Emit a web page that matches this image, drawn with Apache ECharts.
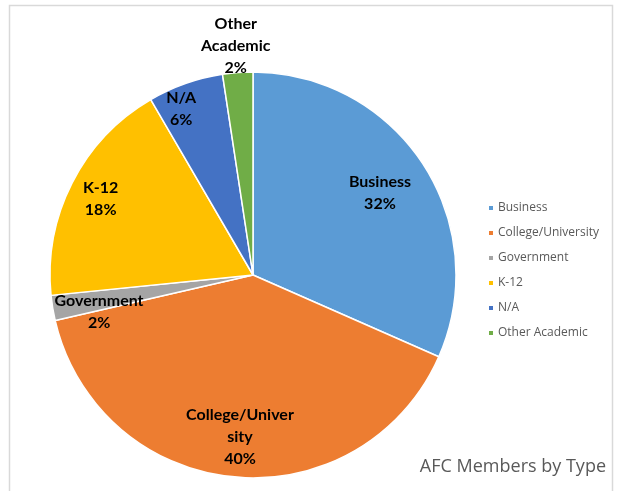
<!DOCTYPE html>
<html><head><meta charset="utf-8">
<script src="https://cdn.jsdelivr.net/npm/echarts@6/dist/echarts.min.js"></script>
<style>html,body{margin:0;padding:0;background:#fff}#c{width:621px;height:491px}</style>
</head><body><div id="c"></div>
<script>
const categories = ['Business','College/University','Government','K-12','N/A','Other Academic'];
const values = [31.6, 39.8, 2.0, 18.2, 6.0, 2.4];
const labelNames = ['Business','College/Univer\nsity','Government','K-12','N/A','Other\nAcademic'];
const titleText = 'AFC Members by Type';

const colors = ['#5B9BD5','#ED7D31','#A5A5A5','#FFC000','#4472C4','#70AD47'];
const labelRadiusFactor = [0.745, 0.80, 0.78, 0.84, 0.89, 1.13];
const labelAngleShift = [0.2, -0.8, -4.2, -0.3, -4.0, 0];

const chart = echarts.init(document.getElementById('c'), null, {renderer:'canvas'});
const total = values.reduce((a,b)=>a+b,0);

chart.setOption({
  animation:false,
  backgroundColor:'#fff',
  color: colors,
  title:{
    text:titleText, right:10, bottom:10,
    textStyle:{fontFamily:'Open Sans', fontSize:18, fontWeight:'normal', color:'#595959'}
  },
  legend:{
    orient:'vertical', left:482, top:196,
    itemWidth:6, itemHeight:6, itemGap:11, icon:'rect',
    textStyle:{fontFamily:'Open Sans', fontSize:12, color:'#595959', lineHeight:14, padding:[0,0,0,-1]},
    data: categories
  },
  graphic:[{
    type:'rect', shape:{x:9.5, y:5.5, width:603, height:500},
    style:{fill:'none', stroke:'#d9d9d9', lineWidth:1.5}, silent:true
  }],
  series:[{
    type:'pie',
    center:[253,275],
    radius:[0,203],
    startAngle:90,
    clockwise:true,
    avoidLabelOverlap:false,
    itemStyle:{borderColor:'#fff', borderWidth:1.5},
    label:{
      show:true, position:'inside',
      fontFamily:'Lato', fontSize:16, fontWeight:'bold', color:'#000', lineHeight:22,
      formatter: p => labelNames[p.dataIndex] + '\n' + Math.round(p.value/total*100) + '%'
    },
    labelLine:{show:false},
    labelLayout: function(params){
      const data = chart.getModel().getSeriesByIndex(0).getData();
      const lay = data.getItemLayout(params.dataIndex);
      const i = params.dataIndex;
      const mid = (lay.startAngle + lay.endAngle)/2 + labelAngleShift[i]*Math.PI/180;
      const r = lay.r * labelRadiusFactor[i];
      return {x: lay.cx + r*Math.cos(mid), y: lay.cy + r*Math.sin(mid), align:'center', verticalAlign:'middle'};
    },
    data: categories.map((c,i)=>({name:c, value:values[i]}))
  }]
});
</script></body></html>
